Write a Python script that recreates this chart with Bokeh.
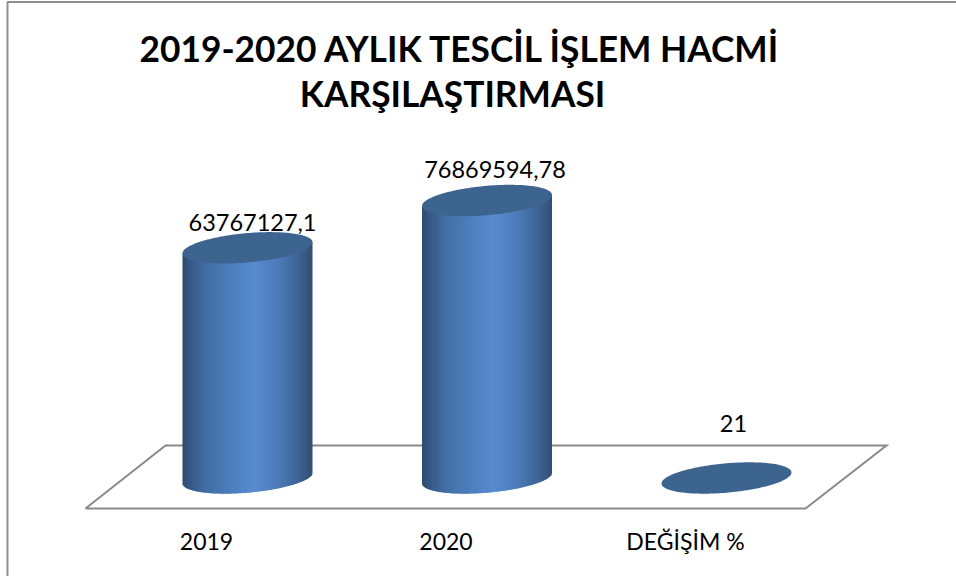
import numpy as np
from bokeh.plotting import figure
from bokeh.models import Range1d
from bokeh.core.properties import value
from bokeh.embed import file_html
from bokeh.resources import INLINE

categories = ["2019", "2020", "DEĞİŞİM %"]
series_values = [63767127.1, 76869594.78, 21]
value_labels = ["63767127,1", "76869594,78", "21"]
title_lines = ["2019-2020 AYLIK TESCİL İŞLEM HACMİ", "KARŞILAŞTIRMASI"]

FONT = "Lato"
W, H = 956, 576
CX0, DCX = 247.0, 239.5      # px of first category, px per category
BASE = 477.5                 # px of the value zero
PX_PER_UNIT = 3.61e-6
HALF_W, SKEW, HALF_H = 65.0, 5.5 / 65.0, 14.7

p = figure(width=W, height=H, output_backend="svg", toolbar_location=None,
           x_range=Range1d(-CX0 / DCX, (W - CX0) / DCX),
           y_range=Range1d((BASE - H) / PX_PER_UNIT, BASE / PX_PER_UNIT),
           min_border=0, outline_line_color=None,
           background_fill_color="white", border_fill_color="white",
           x_axis_location=None, y_axis_location=None)
p.grid.visible = False

dy = lambda px: px / PX_PER_UNIT
X = lambda px: (px - CX0) / DCX
Y = lambda px: (BASE - px) / PX_PER_UNIT

# chart frame
p.line([X(7), X(7), X(956)], [Y(576), Y(1.5), Y(1.5)], line_color="#8e8e8e", line_width=2)

# floor
fx = [85, 805, 886, 165, 85]
fy = [508, 508, 445, 445, 508]
p.line([X(v) for v in fx], [Y(v) for v in fy], line_color="#8a8a8a", line_width=2, line_join="miter")

stops_t = [0.0, 0.06, 0.18, 0.35, 0.55, 0.72, 0.88, 1.0]
stops_c = [(46, 74, 112), (54, 88, 134), (66, 110, 164), (76, 124, 186), (88, 140, 208),
           (76, 124, 186), (62, 102, 152), (50, 78, 114)]

for i, v in enumerate(series_values):
    if v > 1000:
        edges = np.arange(-HALF_W, HALF_W, 1.0)
        centers = (edges + 0.5) / HALF_W
        skew = dy(HALF_W * SKEW) * centers
        low = skew - dy(HALF_H) * np.sqrt(1 - centers ** 2)
        top_mid = v + skew
        tt = (centers + 1) / 2
        cols = ["#%02x%02x%02x" % tuple(int(round(np.interp(a, stops_t, [c[k] for c in stops_c]))) for k in range(3))
                for a in tt]
        p.quad(left=i + edges / DCX, right=i + (edges + 1.5).clip(max=HALF_W) / DCX,
               bottom=low, top=top_mid, fill_color=cols, line_color=None)
    tt = np.linspace(0, 2 * np.pi, 181)
    ex = np.cos(tt)
    ey = np.sin(tt)
    p.patch(i + ex * HALF_W / DCX, v + dy(HALF_W * SKEW) * ex + ey * dy(HALF_H),
            fill_color="#3d638f", line_color=None)

# category labels
p.text(list(range(3)), [Y(540.5)] * 3, text=categories, text_font=value(FONT),
       text_font_size="23px", text_align="center", text_baseline="middle", text_color="black",
       x_offset=-41)

# data labels
lifts = [25, 31, 54]
shift = [5, 8, 7]
p.text(x=list(range(3)), y=series_values, text=value_labels, text_font=value(FONT),
       text_font_size="23.5px", text_align="center", text_baseline="middle", text_color="black",
       x_offset=shift, y_offset=[-l for l in lifts])

# title
p.text([X(460), X(452)], [Y(48), Y(93)], text=title_lines, text_font=value(FONT),
       text_font_style="bold", text_font_size="35.3px", text_align="center",
       text_baseline="middle", text_color="black")

open("out.html", "w").write(file_html(p, INLINE))
